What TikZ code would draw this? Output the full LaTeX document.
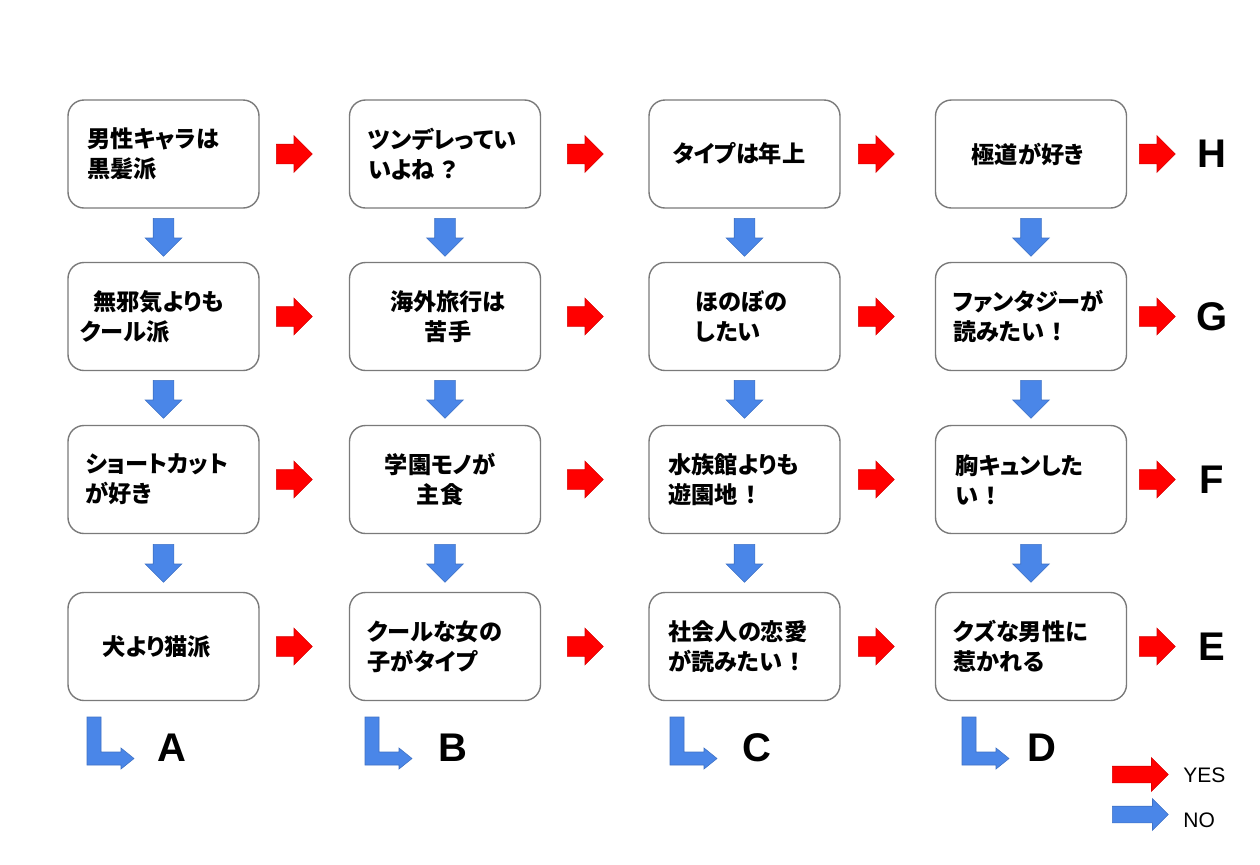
\documentclass[tikz,border=0pt]{standalone}
\usepackage{fontspec}
\setmainfont{Liberation Sans}
\newfontfamily\jp{Noto Sans CJK JP}[RawFeature=+palt]
\usetikzlibrary{shapes.arrows}
\definecolor{yesred}{HTML}{FF0000}
\definecolor{noblue}{HTML}{4A86E8}
\definecolor{boxgray}{HTML}{7A7A7A}
\newcommand{\fwbang}{\hspace{0.3em}！}
\newcommand{\fwques}{\hspace{0.3em}？}
\begin{document}
\begin{tikzpicture}[x=0.5pt,y=-0.5pt,
  qbox/.style={draw=boxgray, line width=0.7pt, rounded corners=8pt, fill=white,
    minimum width=95.5pt, minimum height=54pt, inner sep=0pt},
  qtext/.style={font=\jp\bfseries\fontsize{11.6}{15}\selectfont, inner sep=0pt},
  qleft/.style={qtext, anchor=west, align=left},
  qcenter/.style={qtext, align=center},
  arrowbase/.style={single arrow, inner sep=0pt, single arrow head indent=0pt,
    line width=0.3pt, text depth=0pt, text width=0pt, anchor=tail},
  yesarr/.style={arrowbase, fill=yesred, draw=yesred!85!black, text height=9.5pt,
    minimum height=18pt, minimum width=18pt, single arrow head extend=4.25pt},
  noarr/.style={arrowbase, fill=noblue, draw=noblue!85!black, rotate=-90, text height=10pt,
    minimum height=19pt, minimum width=18pt, single arrow head extend=4pt},
  result/.style={font=\bfseries\fontsize{20}{24}\selectfont, inner sep=0pt},
  legendtext/.style={font=\fontsize{10.5}{12}\selectfont, inner sep=0pt, anchor=west},
  bentarrow/.pic={\filldraw[fill=noblue, draw=noblue!85!black, line width=0.3pt]
    (0,0) -- (14,0) -- (14,35) -- (34,35) -- (34,31) -- (47,41.5) -- (34,52)
    -- (34,48) -- (0,48) -- cycle;}
]
\useasboundingbox[fill=white] (0,0) rectangle (1260,864);

% boxes
\node[qbox] (b11) at (163.5,154) {};
\node[qbox] (b12) at (445,154) {};
\node[qbox] (b13) at (744.5,154) {};
\node[qbox] (b14) at (1031,154) {};
\node[qbox] (b21) at (163.5,316.5) {};
\node[qbox] (b22) at (445,316.5) {};
\node[qbox] (b23) at (744.5,316.5) {};
\node[qbox] (b24) at (1031,316.5) {};
\node[qbox] (b31) at (163.5,479.5) {};
\node[qbox] (b32) at (445,479.5) {};
\node[qbox] (b33) at (744.5,479.5) {};
\node[qbox] (b34) at (1031,479.5) {};
\node[qbox] (b41) at (163.5,646.5) {};
\node[qbox] (b42) at (445,646.5) {};
\node[qbox] (b43) at (744.5,646.5) {};
\node[qbox] (b44) at (1031,646.5) {};

% texts
\node[qleft] (t11) at (87,154) {男性キャラは\\黒髪派};
\node[qleft] (t12) at (368,154) {ツンデレってい\\いよね\fwques};
\node[qcenter] (t13) at (739,154) {タイプは年上};
\node[qcenter] (t14) at (1028,154) {極道が好き};
\node[qleft] (t21) at (80,316.5) {\hspace{6.5pt}無邪気よりも\\クール派};
\node[qcenter] (t22) at (448,316.5) {海外旅行は\\苦手};
\node[qleft] (t23) at (695,316.5) {ほのぼの\\したい};
\node[qleft] (t24) at (953,316.5) {ファンタジーが\\読みたい\fwbang};
\node[qleft] (t31) at (85,479.5) {ショートカット\\が好き};
\node[qcenter] (t32) at (440,479.5) {学園モノが\\主食};
\node[qleft] (t33) at (668,479.5) {水族館よりも\\遊園地\fwbang};
\node[qleft] (t34) at (955,479.5) {胸キュンした\\い\fwbang};
\node[qcenter] (t41) at (157,646.5) {犬より猫派};
\node[qleft] (t42) at (367,646.5) {クールな女の\\子がタイプ};
\node[qleft] (t43) at (668,646.5) {社会人の恋愛\\が読みたい\fwbang};
\node[qleft] (t44) at (953,646.5) {クズな男性に\\惹かれる};

% yes arrows
\foreach \r/\y in {1/154, 2/316.5, 3/479.5, 4/646.5}{
  \node[yesarr] (y\r1) at (276,\y) {};
  \node[yesarr] (y\r2) at (567,\y) {};
  \node[yesarr] (y\r3) at (858,\y) {};
  \node[yesarr] (y\r4) at (1139,\y) {};
}

% no arrows
\foreach \r/\y in {1/218, 2/380, 3/544}{
  \node[noarr] (n\r1) at (163.5,\y) {};
  \node[noarr] (n\r2) at (445,\y) {};
  \node[noarr] (n\r3) at (744.5,\y) {};
  \node[noarr] (n\r4) at (1031,\y) {};
}

% results on the right
\node[result] (rH) at (1212,154) {H};
\node[result] (rG) at (1212,316.5) {G};
\node[result] (rF) at (1212,479.5) {F};
\node[result] (rE) at (1212,646.5) {E};

% bent arrows and bottom results
\pic at (87,717) {bentarrow};
\pic at (365,717) {bentarrow};
\pic at (670,717) {bentarrow};
\pic at (962,717) {bentarrow};
\node[result] (rA) at (172,748) {A};
\node[result] (rB) at (453,748) {B};
\node[result] (rC) at (757,748) {C};
\node[result] (rD) at (1042,748) {D};

% legend
\node[arrowbase, fill=yesred, draw=yesred!85!black, text height=8pt, minimum height=28pt,
  minimum width=16.5pt, single arrow head extend=4.25pt] (ly) at (1112,774.5) {};
\node[arrowbase, fill=noblue, draw=noblue!85!black, text height=8pt, minimum height=28pt,
  minimum width=15.5pt, single arrow head extend=3.75pt] (ln) at (1112,814.5) {};
\node[legendtext] (lyes) at (1183,775) {YES};
\node[legendtext] (lno) at (1183,820) {NO};
\end{tikzpicture}
\end{document}
